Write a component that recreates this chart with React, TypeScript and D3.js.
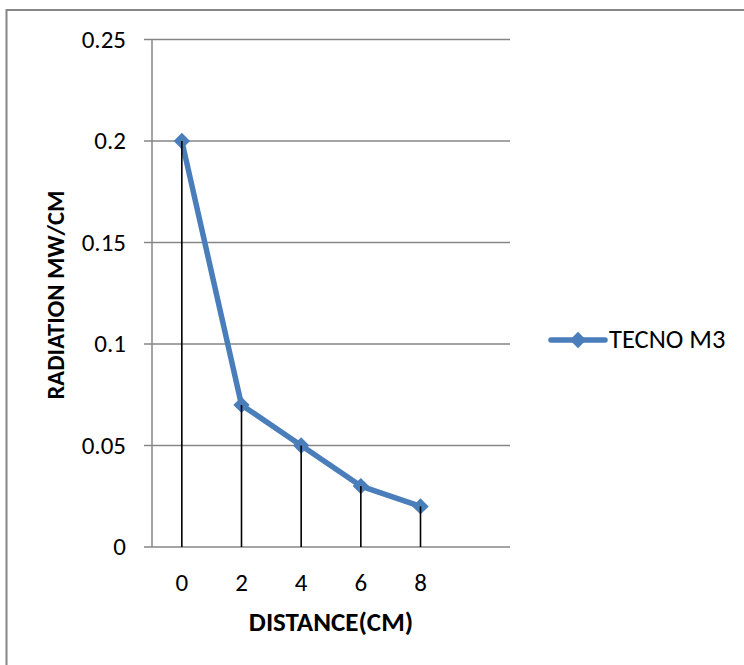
import React from "react";
import * as d3 from "d3";

const categories = ["0", "2", "4", "6", "8"];
const extraSlot = [""];
const values = [0.2, 0.07, 0.05, 0.03, 0.02];
const yTicks = [0, 0.05, 0.1, 0.15, 0.2, 0.25];
const seriesName = "TECNO M3";
const xTitle = "DISTANCE(CM)";
const yTitle = "RADIATION MW/CM";

const W = 744;
const H = 665;
const plot = { left: 152, right: 510, top: 39.5, bottom: 547 };
const FONT = "Carlito, Calibri, Lato, 'Open Sans', sans-serif";
const BLUE = "#4A7EBB";
const GRID = "#868686";

export default function App() {
  const x = d3
    .scaleBand<string>()
    .domain([...categories, ...extraSlot])
    .range([plot.left, plot.right])
    .padding(0);
  const y = d3.scaleLinear().domain([0, 0.25]).range([plot.bottom, plot.top]);
  const cx = (c: string) => (x(c) as number) + x.bandwidth() / 2;

  const pts: [number, number][] = categories.map((c, i) => [cx(c), y(values[i])]);
  const line = d3.line()(pts) as string;
  const diamond = d3.symbol().type(d3.symbolDiamond2).size(170)() as string;

  const legY = 340;
  return (
    <svg
      width={W}
      height={H}
      style={{ position: "absolute", left: 0, top: 0, display: "block", background: "#fff" }}
    >
      <rect x={6.5} y={10} width={800} height={800} fill="#fff" stroke={GRID} strokeWidth={2} />
      {yTicks.map((t) => (
        <g key={t}>
          <line
            x1={plot.left - 8}
            x2={plot.right}
            y1={y(t)}
            y2={y(t)}
            stroke={GRID}
            strokeWidth={1.5}
          />
          <text
            x={126}
            y={y(t)}
            dy="0.33em"
            textAnchor="end"
            fontFamily={FONT}
            fontSize={25}
            fill="#000"
          >
            {String(t)}
          </text>
        </g>
      ))}
      <line x1={plot.left} x2={plot.left} y1={plot.top} y2={plot.bottom} stroke={GRID} strokeWidth={1.5} />
      {categories.map((c) => (
        <text
          key={c}
          x={cx(c)}
          y={591}
          textAnchor="middle"
          fontFamily={FONT}
          fontSize={25}
          fill="#000"
        >
          {c}
        </text>
      ))}
      <path d={line} fill="none" stroke={BLUE} strokeWidth={5.5} strokeLinejoin="round" />
      {pts.map((p, i) => (
        <path key={i} d={diamond} transform={`translate(${p[0]},${p[1]})`} fill={BLUE} />
      ))}
      {pts.map((p, i) => (
        <line key={"d" + i} x1={p[0]} x2={p[0]} y1={p[1]} y2={plot.bottom} stroke="#000" strokeWidth={1.6} />
      ))}
      <text
        x={331}
        y={631}
        textAnchor="middle"
        fontFamily={FONT}
        fontWeight="bold"
        fontSize={27}
        fill="#000"
      >
        {xTitle}
      </text>
      <text
        transform={`translate(64,295) rotate(-90)`}
        textAnchor="middle"
        fontFamily={FONT}
        fontWeight="bold"
        fontSize={24.5}
        fill="#000"
      >
        {yTitle}
      </text>
      <line x1={551} x2={605} y1={legY} y2={legY} stroke={BLUE} strokeWidth={5.5} strokeLinecap="round" />
      <path d={diamond} transform={`translate(578,${legY})`} fill={BLUE} />
      <text x={609} y={348} fontFamily={FONT} fontSize={26.5} fill="#000">
        {seriesName}
      </text>
    </svg>
  );
}
